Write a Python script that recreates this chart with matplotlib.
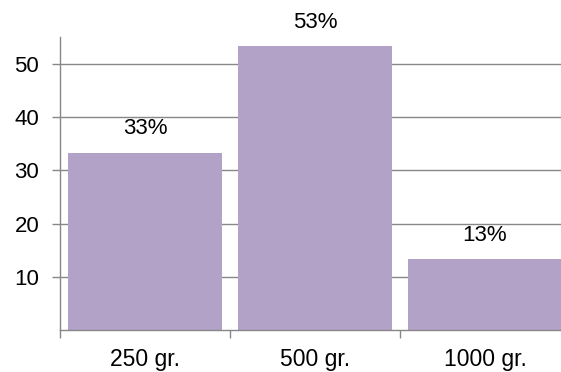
import matplotlib.pyplot as plt
import numpy as np

plt.rcParams['font.family'] = ['Liberation Sans', 'DejaVu Sans']

categories = ['250 gr.', '500 gr.', '1000 gr.']
values = [33.33, 53.33, 13.33]
labels = ['33%', '53%', '13%']

fig = plt.figure(figsize=(5.61, 3.72), dpi=100)
ax = fig.add_axes([0.107, 0.113, 0.909, 0.787])

x = np.arange(len(categories))
ax.bar(x, values, width=0.91, color='#b3a2c7', zorder=2)

for xi, v, lab in zip(x, values, labels):
    ax.text(xi, v + 4.5, lab, ha='center', va='center', fontsize=16)

ax.set_xlim(-0.5, 2.5)
ax.set_ylim(0, 55)
ax.set_yticks([10, 20, 30, 40, 50])
ax.yaxis.grid(True, color='#878787', linewidth=1, zorder=0)

# category ticks sit on the boundaries, labels in the middle
ax.set_xticks([-0.5, 0.5, 1.5, 2.5])
ax.set_xticklabels([])
ax.set_xticks(x, minor=True)
ax.set_xticklabels(categories, minor=True)
ax.tick_params(axis='x', which='minor', length=0, pad=13, labelsize=16.5)
ax.tick_params(axis='x', which='major', length=6, color='#878787', width=1)
ax.tick_params(axis='y', length=6, color='#878787', width=1, labelsize=16, pad=9)

for s in ['top', 'right']:
    ax.spines[s].set_visible(False)
for s in ['left', 'bottom']:
    ax.spines[s].set_color('#878787')
    ax.spines[s].set_linewidth(1)

fig.savefig('out.png', dpi=100)
